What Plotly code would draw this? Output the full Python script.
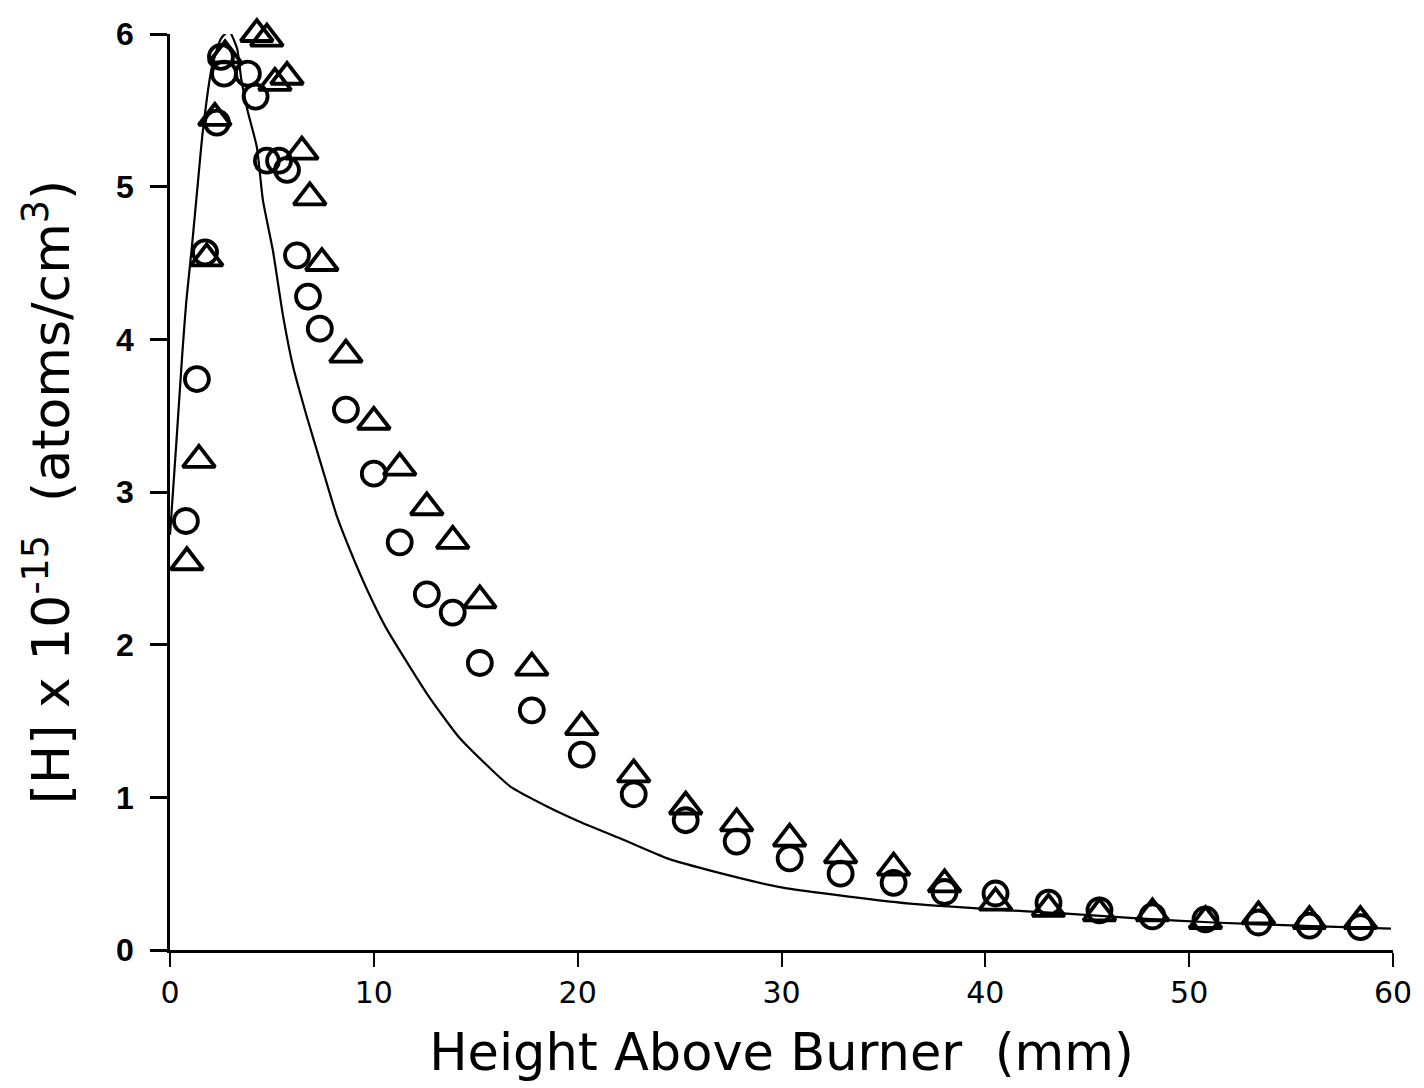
import plotly.graph_objects as go

# Circles (data set 1)
circ_x = [0.78, 1.32, 1.72, 2.3, 2.5, 2.65, 3.09, 3.82, 4.2, 4.75, 5.35, 5.74, 6.23, 6.77, 7.35,
          8.63, 10.0, 11.27, 12.6, 13.87, 15.2, 17.75, 20.2, 22.75, 25.3, 27.8, 30.4, 32.9,
          35.5, 38.0, 40.5, 43.1, 45.6, 48.2, 50.8, 53.4, 55.9, 58.4]
circ_y = [2.81, 3.74, 4.57, 5.42, 5.85, 5.74, 6.01, 5.74, 5.59, 5.17, 5.17, 5.11, 4.55, 4.28, 4.07,
          3.54, 3.12, 2.67, 2.33, 2.21, 1.88, 1.57, 1.28, 1.02, 0.85, 0.71, 0.60, 0.50,
          0.44, 0.38, 0.37, 0.31, 0.26, 0.22, 0.20, 0.18, 0.16, 0.15]

# Triangles (data set 2)
tri_x = [0.83, 1.42, 1.8, 2.2, 2.7, 3.77, 4.26, 4.75, 5.15, 5.74, 6.47, 6.86, 7.45,
         8.63, 10.0, 11.27, 12.6, 13.87, 15.2, 17.75, 20.2, 22.75, 25.3, 27.8, 30.4, 32.9,
         35.5, 38.0, 40.5, 43.1, 45.6, 48.2, 50.8, 53.4, 55.9, 58.4]
tri_y = [2.54, 3.21, 4.53, 5.45, 5.86, 6.02, 6.0, 5.97, 5.68, 5.72, 5.23, 4.93, 4.5,
         3.9, 3.46, 3.16, 2.9, 2.68, 2.29, 1.85, 1.46, 1.15, 0.94, 0.83, 0.73, 0.62,
         0.54, 0.43, 0.31, 0.27, 0.24, 0.24, 0.19, 0.22, 0.19, 0.19]

# Model curve
model_x = [0, 0.3, 0.6, 0.8, 1.07, 1.35, 1.6, 2.05, 2.5, 2.9, 3.3, 3.5, 3.8, 4.26, 4.56, 5.05,
           5.55, 6.04, 6.72, 7.46, 8.19, 8.83, 9.67, 10.6, 12.6, 14.2, 16.7, 18.5, 20.1, 22.1,
           24.4, 26.8, 30.0, 33.3, 36.6, 39.9, 43.8, 47.1, 51.2, 55.3, 59.9]
model_y = [2.72, 3.3, 3.9, 4.25, 4.6, 5.0, 5.35, 5.78, 5.97, 6.02, 5.9, 5.7, 5.5, 5.26, 4.91, 4.58,
           4.15, 3.82, 3.49, 3.16, 2.84, 2.62, 2.36, 2.11, 1.68, 1.39, 1.07, 0.94, 0.84, 0.73,
           0.60, 0.51, 0.41, 0.35, 0.30, 0.27, 0.24, 0.21, 0.18, 0.16, 0.14]

x_ticks = [0, 10, 20, 30, 40, 50, 60]
y_ticks = [0, 1, 2, 3, 4, 5, 6]

fig = go.Figure()
fig.add_trace(go.Scatter(x=model_x, y=model_y, mode="lines",
                         line=dict(color="black", width=2.2, shape="spline", smoothing=0.5),
                         cliponaxis=False))
fig.add_trace(go.Scatter(x=tri_x, y=tri_y, mode="markers", cliponaxis=False,
                         marker=dict(symbol="triangle-up-open", size=28, color="black",
                                     line=dict(color="black", width=3.8))))
fig.add_trace(go.Scatter(x=circ_x, y=circ_y, mode="markers", cliponaxis=False,
                         marker=dict(symbol="circle-open", size=24, color="black",
                                     line=dict(color="black", width=3.8))))

fig.update_layout(
    width=1424, height=1088,
    margin=dict(l=170, r=31, t=34, b=138),
    paper_bgcolor="white", plot_bgcolor="white",
    showlegend=False,
    font=dict(family="Liberation Sans, Arial", color="black"),
)
fig.update_xaxes(range=[0, 60], tickvals=x_ticks, ticktext=[str(v) for v in x_ticks],
                 showgrid=False, zeroline=False, showline=True, linecolor="black", linewidth=2.5,
                 ticks="outside", ticklen=14, tickwidth=2, tickcolor="black",
                 tickfont=dict(size=30, family="DejaVu Sans, Liberation Sans"),
                 title=dict(text="Height Above Burner  (mm)",
                            font=dict(size=51, family="DejaVu Sans, Liberation Sans"),
                            standoff=26))
fig.update_yaxes(range=[0, 6], tickvals=y_ticks, ticktext=["<b>%d</b>" % v for v in y_ticks],
                 showgrid=False, zeroline=False, showline=True, linecolor="black", linewidth=2.5,
                 ticks="outside", ticklen=17, tickwidth=2.5, tickcolor="black",
                 ticklabelstandoff=10,
                 tickfont=dict(size=32, family="Liberation Sans, Arial"),
                 title=dict(text="[H] x 10<sup>-15</sup>  (atoms/cm<sup>3</sup>)",
                            font=dict(size=52, family="DejaVu Sans, Liberation Sans"), standoff=30))

fig.write_html("out.html", config={"displayModeBar": False},
               post_script="document.body.style.margin='0';document.body.style.overflow='hidden';")
